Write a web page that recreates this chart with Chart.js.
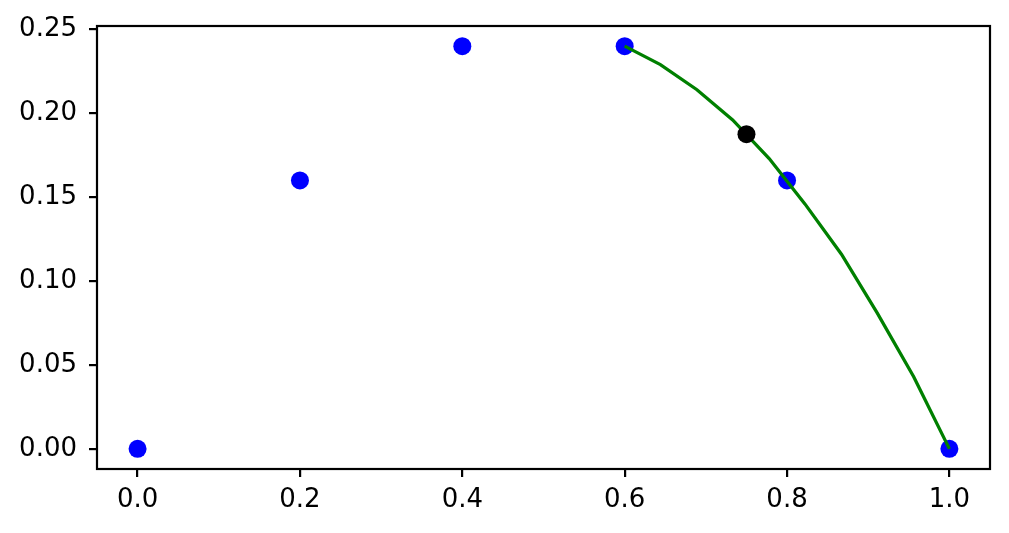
<!DOCTYPE html>
<html>
<head>
<meta charset="utf-8">
<script src="https://cdn.jsdelivr.net/npm/chart.js@4/dist/chart.umd.min.js"></script>
<style>
  html, body { margin: 0; padding: 0; background: #fff; }
  #wrap { width: 1009px; height: 533px; }
</style>
</head>
<body>
<div id="wrap"><canvas id="chart" width="1009" height="533"></canvas></div>
<script>
// sample points
const pointX = [0.0, 0.2, 0.4, 0.6, 0.8, 1.0];
const pointY = [0.0, 0.16, 0.24, 0.24, 0.16, 0.0];

// green curve
const curveX = [0.6, 0.644, 0.689, 0.733, 0.778, 0.822, 0.867, 0.911, 0.956, 1.0];
const curveY = [0.240, 0.229, 0.214, 0.196, 0.173, 0.146, 0.116, 0.081, 0.043, 0.0];

// highlighted point
const markX = [0.75];
const markY = [0.1875];

const xTicks = [0.0, 0.2, 0.4, 0.6, 0.8, 1.0];
const yTicks = [0.0, 0.05, 0.10, 0.15, 0.20, 0.25];

const toPts = (xs, ys) => xs.map((x, i) => ({ x: x, y: ys[i] }));

const FONT = { family: "DejaVu Sans", size: 26 };

// frame round the plot area, like matplotlib spines
const framePlugin = {
  id: "frame",
  afterDraw(chart) {
    const a = chart.chartArea;
    const ctx = chart.ctx;
    ctx.save();
    ctx.strokeStyle = "#000";
    ctx.lineWidth = 2.2;
    ctx.strokeRect(a.left, a.top, a.right - a.left, a.bottom - a.top);
    ctx.restore();
  },
};

new Chart(document.getElementById("chart"), {
  type: "scatter",
  data: {
    datasets: [
      {
        label: "mark",
        data: toPts(markX, markY),
        backgroundColor: "#000",
        borderWidth: 0,
        pointRadius: 9,
        order: 0,
      },
      {
        label: "curve",
        data: toPts(curveX, curveY),
        showLine: true,
        borderColor: "#008000",
        borderWidth: 3.3,
        pointRadius: 0,
        tension: 0,
        order: 1,
      },
      {
        label: "points",
        data: toPts(pointX, pointY),
        backgroundColor: "#0000ff",
        borderWidth: 0,
        pointRadius: 9,
        order: 2,
      },
    ],
  },
  options: {
    responsive: false,
    animation: false,
    layout: { padding: { top: 26, right: 19, left: 0, bottom: 0 } },
    plugins: { legend: { display: false }, tooltip: { enabled: false } },
    scales: {
      x: {
        type: "linear",
        min: -0.05,
        max: 1.05,
        afterBuildTicks: (s) => { s.ticks = xTicks.map((v) => ({ value: v })); },
        afterFit: (s) => { s.height = 64; s.paddingLeft = 0; s.paddingRight = 0; },
        grid: { drawOnChartArea: false, drawTicks: true, tickLength: 8, color: "#000", lineWidth: 2.2 },
        border: { display: false },
        ticks: { color: "#000", font: FONT, padding: 8, maxRotation: 0, callback: (v) => v.toFixed(1) },
      },
      y: {
        type: "linear",
        min: -0.012,
        max: 0.252,
        afterBuildTicks: (s) => { s.ticks = yTicks.map((v) => ({ value: v })); },
        afterFit: (s) => { s.width = 97; s.paddingTop = 0; s.paddingBottom = 0; },
        grid: { drawOnChartArea: false, drawTicks: true, tickLength: 8, color: "#000", lineWidth: 2.2 },
        border: { display: false },
        ticks: { color: "#000", font: FONT, padding: 12, callback: (v) => v.toFixed(2) },
      },
    },
  },
  plugins: [framePlugin],
});
</script>
</body>
</html>
